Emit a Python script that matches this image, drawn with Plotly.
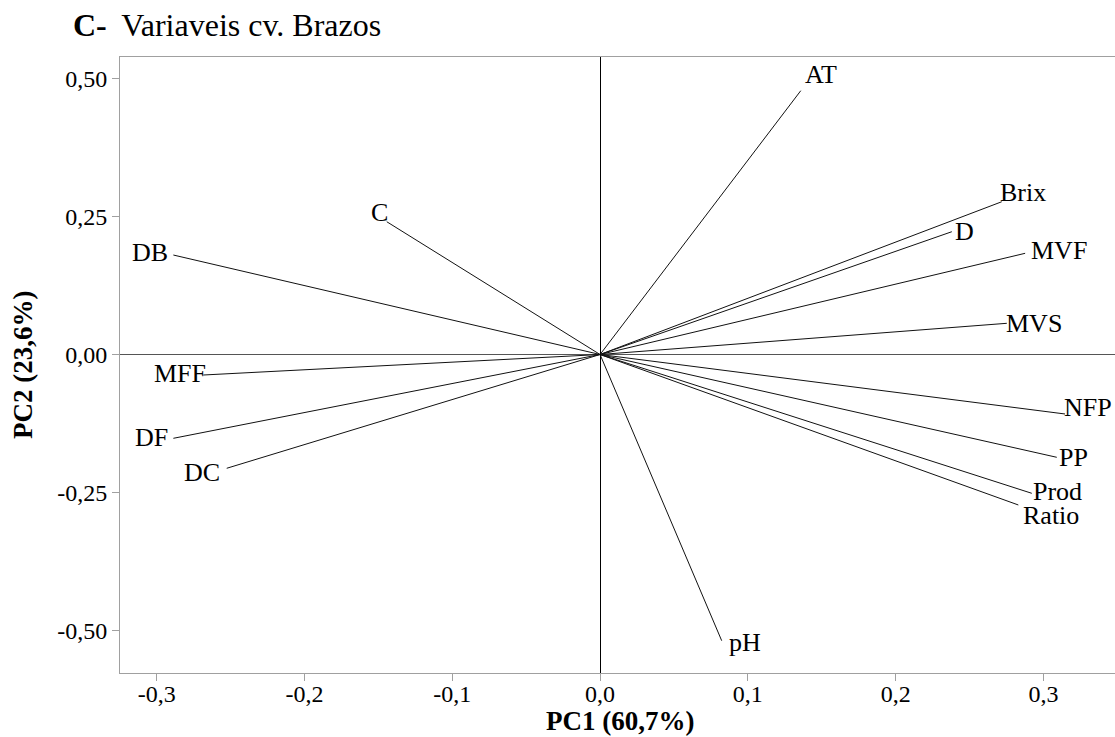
import plotly.graph_objects as go

# ---- data (loadings) ----
variables = ["AT", "Brix", "D", "MVF", "MVS", "NFP", "PP", "Prod", "Ratio",
             "pH", "C", "DB", "MFF", "DF", "DC"]
pc1 = [0.1358, 0.2718, 0.2380, 0.2876, 0.2752, 0.3146, 0.3090, 0.2921, 0.2830,
       0.0823, -0.1443, -0.2887, -0.2684, -0.2887, -0.2526]
pc2 = [0.4776, 0.2766, 0.2223, 0.1832, 0.0565, -0.1077, -0.1861, -0.2513, -0.2724,
       -0.5181, 0.2404, 0.1801, -0.0371, -0.1517, -0.2060]

x_tickvals = [-0.3, -0.2, -0.1, 0.0, 0.1, 0.2, 0.3]
x_ticktext = ["-0,3", "-0,2", "-0,1", "0,0", "0,1", "0,2", "0,3"]
y_tickvals = [-0.50, -0.25, 0.00, 0.25, 0.50]
y_ticktext = ["-0,50", "-0,25", "0,00", "0,25", "0,50"]

title_bold = "C-"
title_rest = "Variaveis cv. Brazos"
x_title = "PC1 (60,7%)"
y_title = "PC2 (23,6%)"

# ---- label placement (style only) ----
label_style = {
    "AT": ("left", 2, 16), "Brix": ("left", -4, 9), "D": ("left", 1, 0),
    "MVF": ("left", 4, 3), "MVS": ("left", -3, 0), "NFP": ("left", -3, 6),
    "PP": ("left", 0, 0), "Prod": ("left", -1, 2), "Ratio": ("left", 3, -11),
    "pH": ("left", 5, -2), "C": ("right", 3, 9), "DB": ("right", -3, 3),
    "MFF": ("right", 5, 2), "DF": ("right", -3, 1), "DC": ("right", -5, -4),
}

FONT = "Liberation Serif"

lx, ly = [], []
for a, b in zip(pc1, pc2):
    lx += [0, a, None]
    ly += [0, b, None]

fig = go.Figure()
fig.add_trace(go.Scatter(x=lx, y=ly, mode="lines",
                         line=dict(color="#111111", width=1),
                         hoverinfo="skip", showlegend=False))

annotations = []
for name, a, b in zip(variables, pc1, pc2):
    anc, xs, ys = label_style[name]
    annotations.append(dict(x=a, y=b, xref="x", yref="y", text=name,
                            showarrow=False, xanchor=anc, yanchor="middle",
                            xshift=xs, yshift=ys,
                            font=dict(family=FONT, size=26, color="#000")))

W, H = 1115, 737
L, R, T, B = 120, 0, 57, 64
pw, ph = W - L - R, H - T - B

def px_x(p):
    return (p - L) / pw

def px_y(p):
    return (H - B - p) / ph

annotations.append(dict(x=px_x(71), y=px_y(25), xref="paper", yref="paper",
                        text="<b>" + title_bold + "</b>\u00a0\u2009" + title_rest,
                        showarrow=False, xanchor="left", yanchor="middle",
                        font=dict(family=FONT, size=32, color="#000")))
annotations.append(dict(x=px_x(620), y=px_y(721), xref="paper", yref="paper",
                        text="<b>" + x_title + "</b>", showarrow=False,
                        xanchor="center", yanchor="middle",
                        font=dict(family=FONT, size=27, color="#000")))
annotations.append(dict(x=px_x(23), y=px_y(365), xref="paper", yref="paper",
                        text="<b>" + y_title + "</b>", showarrow=False,
                        textangle=-90, xanchor="center", yanchor="middle",
                        font=dict(family=FONT, size=27, color="#000")))

fig.update_layout(
    width=W, height=H,
    margin=dict(l=L, r=R, t=T, b=B, pad=0),
    paper_bgcolor="white", plot_bgcolor="white",
    annotations=annotations,
    showlegend=False,
    xaxis=dict(range=[-0.3248, 0.3484], tickvals=x_tickvals, ticktext=x_ticktext,
               showgrid=False, zeroline=True, zerolinecolor="#000000", zerolinewidth=1,
               showline=True, linecolor="#a0a0a0", linewidth=1, mirror=True,
               ticks="outside", ticklen=7, tickcolor="#a0a0a0", tickwidth=1,
               ticklabelstandoff=-8,
               tickfont=dict(family=FONT, size=24, color="#000")),
    yaxis=dict(range=[-0.5766, 0.5386], tickvals=y_tickvals, ticktext=y_ticktext,
               showgrid=False, zeroline=True, zerolinecolor="#555555", zerolinewidth=1,
               showline=True, linecolor="#a0a0a0", linewidth=1, mirror=False,
               ticks="outside", ticklen=7, tickcolor="#a0a0a0", tickwidth=1,
               tickfont=dict(family=FONT, size=24, color="#000")),
)

fig.write_html("out.html")
